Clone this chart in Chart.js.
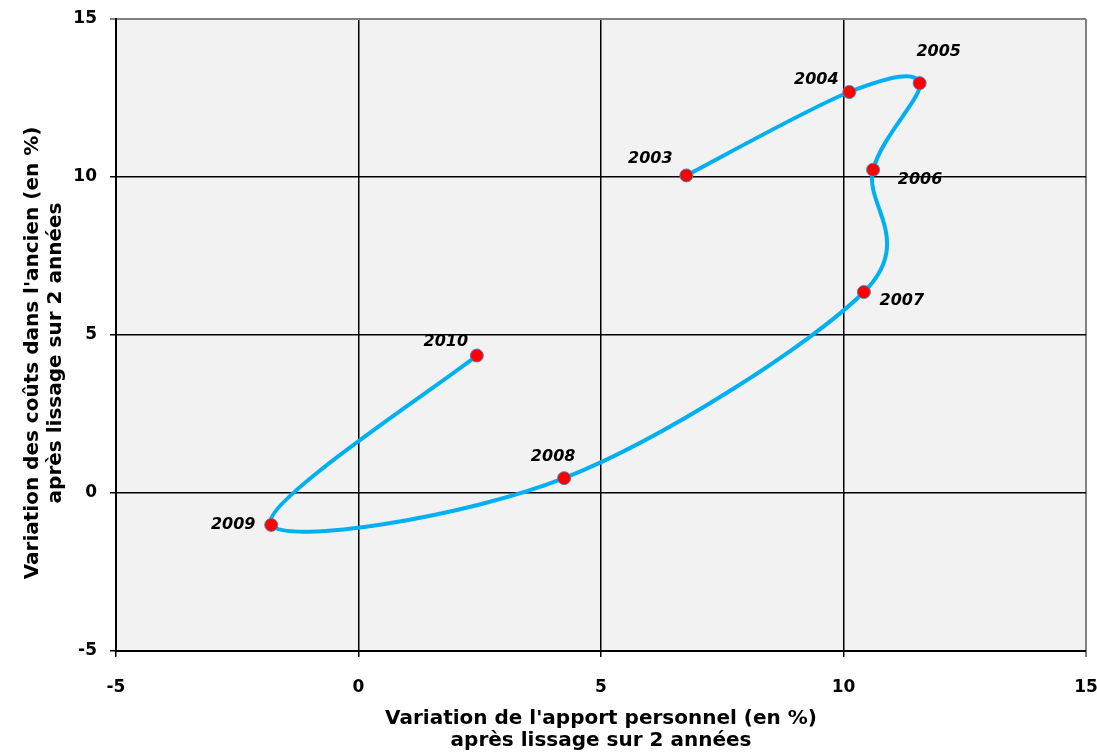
<!DOCTYPE html>
<html>
<head>
<meta charset="utf-8">
<script src="https://cdn.jsdelivr.net/npm/chart.js@4/dist/chart.umd.min.js"></script>
<style>
  html, body { margin: 0; padding: 0; background: #fff; }
  #wrap { width: 1097px; height: 752px; }
</style>
</head>
<body>
<div id="wrap"><canvas id="chart" width="1097" height="752"></canvas></div>
<script>
// values
const years = ["2003", "2004", "2005", "2006", "2007", "2008", "2009", "2010"];
const apportValues = [6.76, 10.12, 11.57, 10.61, 10.42, 4.24, -1.80, 2.44];
const coutsValues = [10.05, 12.69, 12.97, 10.23, 6.36, 0.47, -1.01, 4.35];
const tickValues = [-5, 0, 5, 10, 15];
const yTitleLines = ["Variation des coûts dans l'ancien (en %)", "après lissage sur 2 années"];
const xTitleLines = ["Variation de l'apport personnel (en %)", "après lissage sur 2 années"];

// where each year label sits relative to its point (px)
const labelOffsets = {
  "2003": [-36, -17], "2004": [-33, -12], "2005": [19, -31], "2006": [47, 10],
  "2007": [38, 9], "2008": [-11, -21], "2009": [-38, 0], "2010": [-31, -14]
};

const plotBackground = {
  id: "plotBackground",
  beforeDraw(chart) {
    const { ctx, chartArea: a } = chart;
    ctx.save();
    ctx.fillStyle = "#f2f2f2";
    ctx.fillRect(a.left, a.top, a.right - a.left, a.bottom - a.top);
    ctx.restore();
  }
};

// Excel-like smoothing: tangent at each point = (next - prev) / 6
const excelSmooth = {
  id: "excelSmooth",
  beforeDatasetsDraw(chart) {
    const meta = chart.getDatasetMeta(0);
    const pts = meta.data;
    meta.dataset.updateControlPoints(chart.chartArea, "x");
    pts.forEach((p, i) => {
      const prev = pts[i - 1] || p;
      const next = pts[i + 1] || p;
      const tx = (next.x - prev.x) / 6;
      const ty = (next.y - prev.y) / 6;
      p.cp1x = p.x - tx;
      p.cp1y = p.y - ty;
      p.cp2x = p.x + tx;
      p.cp2y = p.y + ty;
    });
  }
};

const yearLabels = {
  id: "yearLabels",
  afterDatasetsDraw(chart) {
    const { ctx } = chart;
    const meta = chart.getDatasetMeta(0);
    ctx.save();
    ctx.font = "italic bold 16px 'DejaVu Sans'";
    ctx.fillStyle = "#000";
    ctx.textAlign = "center";
    ctx.textBaseline = "middle";
    meta.data.forEach((pt, i) => {
      const off = labelOffsets[years[i]] || [0, 0];
      ctx.fillText(years[i], pt.x + off[0], pt.y + off[1]);
    });
    ctx.restore();
  }
};

const yTitle = {
  id: "yTitle",
  afterDraw(chart) {
    const { ctx, chartArea: a } = chart;
    ctx.save();
    ctx.translate(0, (a.top + a.bottom) / 2 + 18);
    ctx.rotate(-Math.PI / 2);
    ctx.font = "bold 20px 'DejaVu Sans'";
    ctx.fillStyle = "#000";
    ctx.textAlign = "center";
    ctx.textBaseline = "middle";
    ctx.fillText(yTitleLines[0], 0, 33);
    ctx.fillText(yTitleLines[1], 0, 56);
    ctx.restore();
  }
};

const points = apportValues.map((x, i) => ({ x: x, y: coutsValues[i] }));

const tickFont = { family: "DejaVu Sans", size: 17, weight: "bold" };
const titleFont = { family: "DejaVu Sans", size: 20, weight: "bold", lineHeight: 1.1 };

// the outer edge of the plot area (at 15) is grey, inner grid lines black
function gridColor(ctx) {
  return ctx.tick && ctx.tick.value === 15 ? "#808080" : "#000";
}
function gridWidth(ctx) {
  return ctx.tick && ctx.tick.value === 15 ? 2 : 1.5;
}

new Chart(document.getElementById("chart"), {
  type: "scatter",
  data: {
    datasets: [{
      data: points,
      showLine: true,
      borderColor: "#00b0f0",
      borderWidth: 4,
      tension: 0.35,
      pointRadius: 6.5,
      pointBackgroundColor: "#ff0000",
      pointBorderColor: "#4f81bd",
      pointBorderWidth: 1
    }]
  },
  options: {
    responsive: false,
    animation: false,
    layout: { padding: { top: 19, right: 11, left: 0, bottom: 0 } },
    plugins: {
      legend: { display: false },
      tooltip: { enabled: false }
    },
    scales: {
      x: {
        min: -5,
        max: 15,
        afterFit(scale) {
          scale.height = 101;
          scale.paddingLeft = 0;
          scale.paddingRight = 0;
        },
        afterBuildTicks(scale) { scale.ticks = tickValues.map(v => ({ value: v })); },
        grid: { color: gridColor, lineWidth: gridWidth, tickLength: 6 },
        border: { color: "#000", width: 2 },
        ticks: { color: "#000", font: tickFont, padding: 20, maxRotation: 0 },
        title: {
          display: true,
          text: xTitleLines,
          color: "#000",
          font: titleFont,
          padding: { top: 0, bottom: 0 }
        }
      },
      y: {
        min: -5,
        max: 15,
        afterFit(scale) {
          scale.width = 116;
          scale.paddingTop = 0;
          scale.paddingBottom = 0;
        },
        afterBuildTicks(scale) { scale.ticks = tickValues.map(v => ({ value: v })); },
        grid: { color: gridColor, lineWidth: gridWidth, tickLength: 6 },
        border: { color: "#000", width: 2 },
        ticks: { color: "#000", font: tickFont, padding: 13 },
        title: { display: false }
      }
    }
  },
  plugins: [plotBackground, excelSmooth, yearLabels, yTitle]
});
</script>
</body>
</html>
